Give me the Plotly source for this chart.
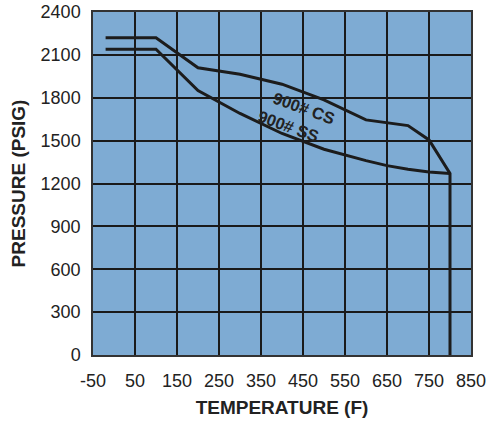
import plotly.graph_objects as go

# Data
cs_temp = [-20, 100, 200, 300, 400, 500, 600, 700, 750, 800, 800]
cs_pres = [2220, 2220, 2010, 1965, 1895, 1785, 1645, 1605, 1505, 1270, 0]
ss_temp = [-20, 100, 200, 300, 400, 500, 600, 650, 700, 750, 800]
ss_pres = [2140, 2140, 1850, 1690, 1550, 1440, 1360, 1325, 1300, 1280, 1270]

x_ticks = [-50, 50, 150, 250, 350, 450, 550, 650, 750, 850]
y_ticks = [0, 300, 600, 900, 1200, 1500, 1800, 2100, 2400]

line_color = "#1c1c1c"
font_family = "Liberation Sans, Arial, sans-serif"

fig = go.Figure()
fig.add_trace(go.Scatter(x=cs_temp, y=cs_pres, mode="lines",
                         line=dict(color=line_color, width=3), name="900# CS",
                         showlegend=False))
fig.add_trace(go.Scatter(x=ss_temp, y=ss_pres, mode="lines",
                         line=dict(color=line_color, width=3), name="900# SS",
                         showlegend=False))

fig.add_annotation(x=452, y=1730, text="<b>900# CS</b>", showarrow=False,
                   textangle=20, font=dict(size=16.5, color="#222222", family=font_family))
fig.add_annotation(x=415, y=1605, text="<b>900# SS</b>", showarrow=False,
                   textangle=20, font=dict(size=16.5, color="#222222", family=font_family))

fig.update_layout(
    width=492, height=422,
    margin=dict(l=93, r=21, t=12, b=67, autoexpand=False),
    paper_bgcolor="white",
    plot_bgcolor="#7eabd3",
    font=dict(family=font_family, color="#222222", size=18),
    xaxis=dict(range=[-50, 850], tickvals=x_ticks, ticktext=[str(v) for v in x_ticks],
               showgrid=True, gridcolor="#1a1a1a", gridwidth=1.5, automargin=False,
               zeroline=False, showline=True, linecolor="#333333", linewidth=1.5, mirror=True,
               ticks="", ticklabelstandoff=9, tickfont=dict(size=18),
               title=dict(text="<b>TEMPERATURE (F)</b>", font=dict(size=19), standoff=10)),
    yaxis=dict(range=[0, 2400], tickvals=y_ticks, ticktext=[str(v) for v in y_ticks],
               showgrid=True, gridcolor="#1a1a1a", gridwidth=1.5, automargin=False,
               zeroline=False, showline=True, linecolor="#333333", linewidth=1.5, mirror=True,
               ticks="", ticklabelstandoff=7, tickfont=dict(size=18),
               title=dict(text="<b>PRESSURE (PSIG)</b>", font=dict(size=19), standoff=10)),
)

fig.write_html("out.html", config={"displayModeBar": False},
               post_script="document.body.style.margin='0';document.body.style.overflow='hidden';")
